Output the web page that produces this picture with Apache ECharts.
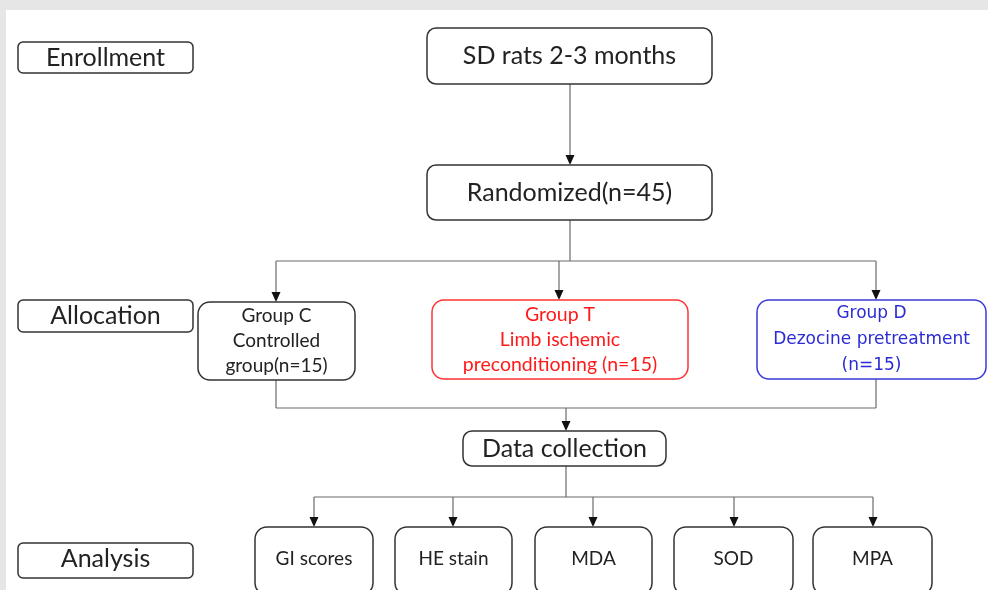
<!DOCTYPE html>
<html><head><meta charset="utf-8">
<script src="https://cdn.jsdelivr.net/npm/echarts@6/dist/echarts.min.js"></script>
<style>html,body{margin:0;padding:0;background:#e6e6e6}#c{width:988px;height:590px}</style>
</head><body><div id="c"></div>
<script>
// ---- content ----
const stageLabels = ['Enrollment', 'Allocation', 'Analysis'];
const flowLabels = ['SD rats 2-3 months', 'Randomized(n=45)', 'Data collection'];
const groupLabels = [
  'Group C\nControlled\ngroup(n=15)',
  'Group T\nLimb ischemic\npreconditioning (n=15)',
  'Group D\nDezocine pretreatment\n(n=15)'
];
const outcomeLabels = ['GI scores', 'HE stain', 'MDA', 'SOD', 'MPA'];

// ---- layout (diagram units on hidden value axes: 0..988 x 0..590) ----
const stageLayout = [[18, 42, 193, 73], [18, 300, 193, 332], [18, 543, 193, 578]];
const flowLayout = [[427, 28, 712, 84], [427, 165, 712, 220], [463, 431, 666, 466]];
const groupLayout = [[198, 302, 355, 380], [432, 300, 688, 379], [757, 300, 986, 379]];
const outcomeLayout = [[255, 527, 373, 595], [395, 527, 512, 595], [535, 527, 652, 595], [674, 527, 793, 595], [813, 527, 932, 595]];
// connectors: [x1,y1,x2,y2,arrowhead]
const links = [
  [570, 84, 570, 165, 1],
  [570, 220, 570, 261, 0],
  [276, 261, 876, 261, 0],
  [276, 261, 276, 302, 1],
  [559, 261, 559, 300, 1],
  [876, 261, 876, 300, 1],
  [276, 380, 276, 408, 0],
  [876, 379, 876, 408, 0],
  [276, 408, 876, 408, 0],
  [566, 408, 566, 431, 1],
  [566, 466, 566, 497, 0],
  [314, 497, 873, 497, 0],
  [314, 497, 314, 527, 1],
  [453, 497, 453, 527, 1],
  [593, 497, 593, 527, 1],
  [734, 497, 734, 527, 1],
  [873, 497, 873, 527, 1]
];

// ---- styles ----
const styles = {
  stage: {font: '25px Lato', color: '#222', stroke: '#333', r: 5, lh: 26},
  flow: {font: '25px Lato', color: '#222', stroke: '#333', r: 9, lh: 26},
  group: [
    {font: '19px Lato', color: '#222', stroke: '#333', r: 12, lh: 25},
    {font: '19.5px Lato', color: '#ff1a1a', stroke: '#ff3333', r: 12, lh: 25},
    {font: '17px "DejaVu Sans"', color: '#2b2bd6', stroke: '#3a3ad8', r: 12, lh: 26}
  ],
  outcome: {font: '19px Lato', color: '#222', stroke: '#333', r: 12, lh: 22}
};

const boxes = [];
stageLabels.forEach((t, i) => boxes.push({text: t, lay: stageLayout[i], st: styles.stage}));
flowLabels.forEach((t, i) => boxes.push({text: t, lay: flowLayout[i], st: styles.flow}));
groupLabels.forEach((t, i) => boxes.push({text: t, lay: groupLayout[i], st: styles.group[i]}));
outcomeLabels.forEach((t, i) => boxes.push({text: t, lay: outcomeLayout[i], st: styles.outcome}));

function renderBox(params, api) {
  const b = boxes[params.dataIndex];
  const p0 = api.coord([api.value(0), api.value(1)]);
  const p1 = api.coord([api.value(2), api.value(3)]);
  const x = Math.min(p0[0], p1[0]), y = Math.min(p0[1], p1[1]);
  const w = Math.abs(p1[0] - p0[0]), h = Math.abs(p1[1] - p0[1]);
  return {
    type: 'group',
    children: [
      {type: 'rect', shape: {x: x, y: y, width: w, height: h, r: b.st.r},
       style: {fill: '#fff', stroke: b.st.stroke, lineWidth: 1.5}},
      {type: 'text', x: x + w / 2, y: Math.min(y + h / 2, 559),
       style: {text: b.text, font: b.st.font, fill: b.st.color, align: 'center',
               verticalAlign: 'middle', lineHeight: b.st.lh}}
    ]
  };
}

function renderLink(params, api) {
  const a = api.coord([api.value(0), api.value(1)]);
  const c = api.coord([api.value(2), api.value(3)]);
  const arrow = api.value(4);
  const children = [];
  let end = c.slice();
  if (arrow) end = [c[0], c[1] - 8];
  children.push({type: 'line', shape: {x1: a[0], y1: a[1], x2: end[0], y2: end[1]},
                 style: {stroke: '#6a6a6a', lineWidth: 1.2}});
  if (arrow) {
    children.push({type: 'polygon', shape: {points: [[c[0] - 4.5, c[1] - 10], [c[0] + 4.5, c[1] - 10], [c[0], c[1]]]},
                   style: {fill: '#111'}});
  }
  return {type: 'group', children: children};
}

const chart = echarts.init(document.getElementById('c'), null, {renderer: 'canvas'});
chart.setOption({
  backgroundColor: '#e6e6e6',
  animation: false,
  graphic: [{type: 'rect', left: 6, top: 10, shape: {width: 982, height: 580}, style: {fill: '#fff'}, z: -10}],
  grid: {left: 0, right: 0, top: 0, bottom: 0},
  xAxis: {type: 'value', min: 0, max: 988, show: false},
  yAxis: {type: 'value', min: 0, max: 590, inverse: true, show: false},
  series: [
    {type: 'custom', renderItem: renderLink, data: links, z: 1, clip: false},
    {type: 'custom', renderItem: renderBox, data: boxes.map(b => b.lay), z: 2, clip: true}
  ]
});
</script></body></html>
